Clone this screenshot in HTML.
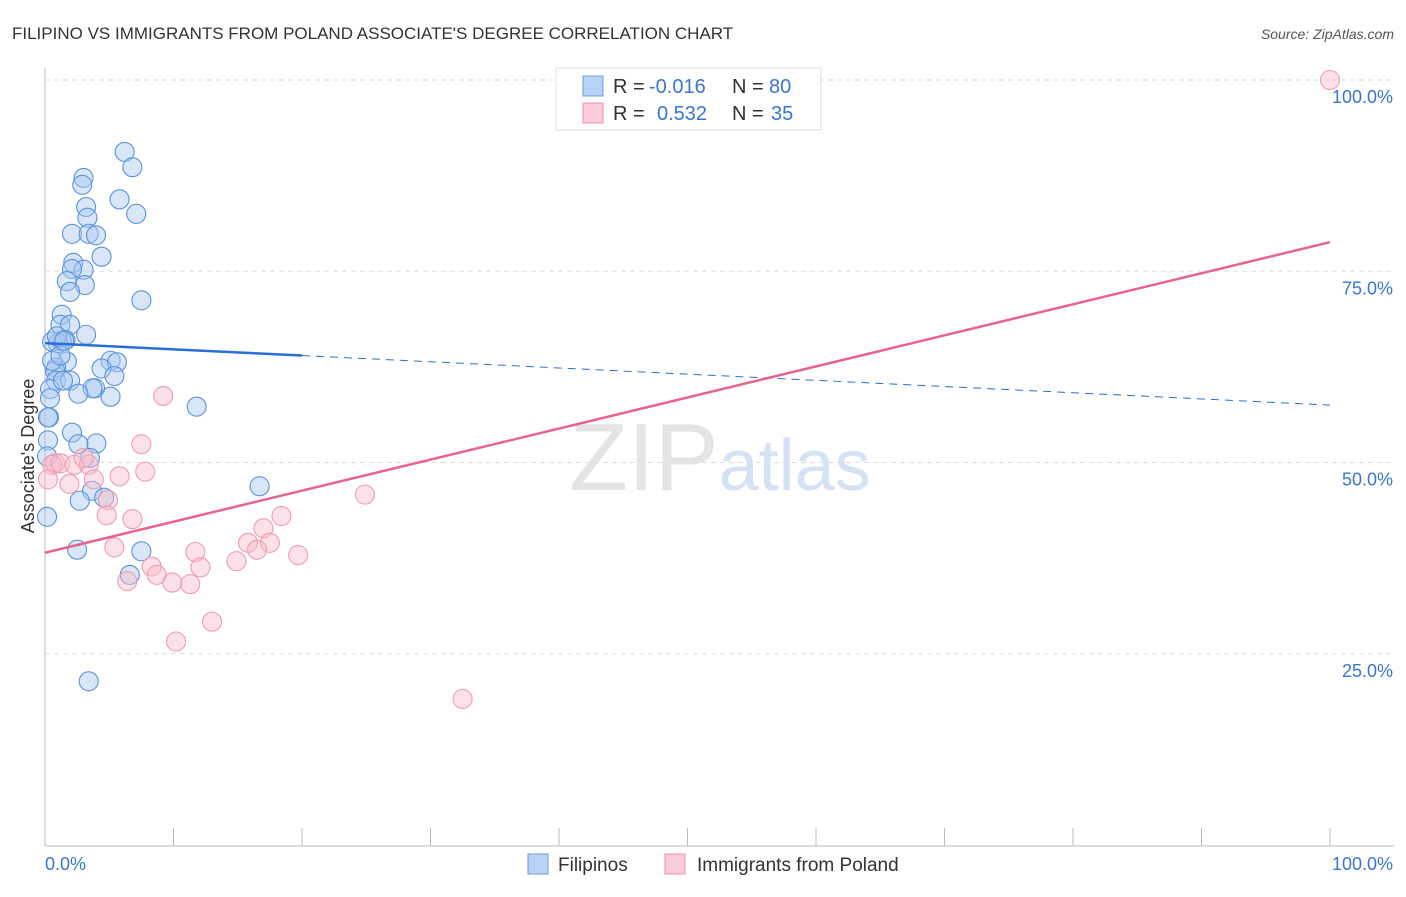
<!DOCTYPE html>
<html><head><meta charset="utf-8"><style>
body{margin:0;background:#fff;font-family:"Liberation Sans",sans-serif;}
svg text{font-family:"Liberation Sans",sans-serif;}
</style></head><body>
<svg width="1406" height="892" xmlns="http://www.w3.org/2000/svg">
<text x="12" y="39" font-size="17" fill="#333">FILIPINO VS IMMIGRANTS FROM POLAND ASSOCIATE'S DEGREE CORRELATION CHART</text>
<text x="1394" y="39" font-size="14" fill="#555" font-style="italic" text-anchor="end">Source: ZipAtlas.com</text>
<g id="grid"></g>
<text x="720" y="490" font-size="96" fill="#e4e4e4" text-anchor="middle" font-family="Liberation Serif">ZIP<tspan fill="#d5e2f4" font-family="Liberation Sans" font-size="72">atlas</tspan></text>
<g id="pts"></g>
<g id="lines"></g>
<text transform="translate(34,456) rotate(-90)" font-size="18" fill="#333" text-anchor="middle">Associate's Degree</text>
<text x="45" y="870" font-size="18" fill="#3a76d0">0.0%</text>
<text x="1393" y="870" font-size="18" fill="#3a76d0" text-anchor="end">100.0%</text>
<g>
<rect x="556" y="68" width="265" height="62" fill="#fff" stroke="#ddd"/>
<rect x="583" y="76" width="20" height="20" fill="#b9d3f5" stroke="#6a9de0"/>
<rect x="583" y="103" width="20" height="20" fill="#fbcbd9" stroke="#ec91ad"/>
<text x="613" y="93" font-size="20" fill="#333">R =</text>
<text x="649" y="93" font-size="20" fill="#3a76d0">-0.016</text>
<text x="732" y="93" font-size="20" fill="#333">N =</text>
<text x="769" y="93" font-size="20" fill="#3a76d0">80</text>
<text x="613" y="120" font-size="20" fill="#333">R =</text>
<text x="657" y="120" font-size="20" fill="#3a76d0">0.532</text>
<text x="732" y="120" font-size="20" fill="#333">N =</text>
<text x="771" y="120" font-size="20" fill="#3a76d0">35</text>
</g>
<g>
<rect x="528" y="854" width="20" height="20" fill="#b9d3f5" stroke="#6a9de0"/>
<text x="558" y="871" font-size="19" fill="#333">Filipinos</text>
<rect x="665" y="854" width="20" height="20" fill="#fbcbd9" stroke="#ec91ad"/>
<text x="697" y="871" font-size="19" fill="#333">Immigrants from Poland</text>
</g>
</svg>
<script>
const yTicks=[25,50,75,100];
const yTickLabels=["25.0%","50.0%","75.0%","100.0%"];
const blueX=[6.2,6.8,3.0,2.9,5.8,3.2,7.1,3.3,2.1,3.4,3.97,4.4,2.2,3.0,2.1,1.7,3.1,7.5,1.3,1.2,1.95,3.2,1.6,1.3,1.0,0.55,1.7,0.86,5.1,5.6,4.4,5.4,0.78,0.86,1.95,3.9,3.7,5.1,2.6,0.39,0.39,0.31,0.23,11.8,2.1,4.0,2.6,0.23,3.5,0.16,16.7,3.66,4.6,2.7,0.16,2.5,7.5,6.6,3.4,0.55,1.2,1.4,0.93,1.5,1.95];
const blueY=[90.6,88.6,87.2,86.3,84.4,83.4,82.5,82.0,79.9,79.9,79.7,76.9,76.1,75.2,75.3,73.7,73.2,71.2,69.3,68.0,68.0,66.7,66.0,65.9,65.6,65.8,63.2,62.4,63.3,63.1,62.3,61.3,62.0,60.7,60.7,59.7,59.7,58.6,59.0,59.6,58.4,55.9,55.9,57.3,53.9,52.5,52.4,52.9,50.6,50.8,46.9,46.3,45.4,45.0,42.9,38.6,38.4,35.3,21.4,63.3,64.0,60.7,66.5,65.9,72.3];
const pinkX=[100,9.2,7.5,0.78,0.55,1.2,2.3,3.4,3.0,7.8,5.8,3.8,1.9,0.23,24.9,4.9,4.8,6.8,18.4,5.4,15.8,17.0,17.5,16.5,11.7,14.9,19.7,8.3,8.7,6.4,12.1,9.9,11.3,13.0,10.2,32.5];
const pinkY=[100,58.7,52.4,49.9,49.7,49.9,49.7,49.7,50.6,48.8,48.2,47.8,47.2,47.8,45.8,45.1,43.1,42.6,43.0,38.9,39.5,41.4,39.5,38.6,38.3,37.1,37.9,36.4,35.3,34.5,36.3,34.3,34.1,29.2,26.6,19.1];
const blueTrend=[65.6,57.5];
const pinkTrend=[38.2,78.8];
const X0=45,X1=1330,Y0=845,Y100=80;
const sx=v=>X0+(X1-X0)*v/100, sy=v=>Y0-(Y0-Y100)*v/100;
const NS="http://www.w3.org/2000/svg";
function mk(t,a,p){const e=document.createElementNS(NS,t);for(const k in a)e.setAttribute(k,a[k]);p.appendChild(e);return e;}
const grid=document.getElementById('grid');
mk('line',{x1:45,y1:68,x2:45,y2:846,stroke:'#bbb'},grid);
mk('line',{x1:45,y1:846,x2:1394,y2:846,stroke:'#bbb'},grid);
for(let i=0;i<=10;i++){const x=sx(i*10);const t=mk('line',{x1:x,y1:828,x2:x,y2:846,stroke:'#bbb'},grid);

}
yTicks.forEach((v,i)=>{const g=mk('line',{x1:45,y1:sy(v),x2:1394,y2:sy(v),stroke:'#ddd','stroke-dasharray':'5,4'},grid);


const t=mk('text',{x:1393,y:sy(v)+23,'font-size':18,fill:'#3a76d0','text-anchor':'end'},grid);t.textContent=yTickLabels[i];

});
const pts=document.getElementById('pts');
blueX.forEach((v,i)=>{const c=mk('circle',{cx:sx(v),cy:sy(blueY[i]),r:9.5,fill:'#a9c8f0','fill-opacity':0.45,stroke:'#5b93dc','stroke-width':1.1},pts);

});
pinkX.forEach((v,i)=>{const c=mk('circle',{cx:sx(v),cy:sy(pinkY[i]),r:9.5,fill:'#f8bccd','fill-opacity':0.45,stroke:'#ef9bb4','stroke-width':1.1},pts);

});
const ln=document.getElementById('lines');
const bAt=x=>blueTrend[0]+(blueTrend[1]-blueTrend[0])*x/100;
let l=mk('line',{x1:sx(0),y1:sy(bAt(0)),x2:sx(20),y2:sy(bAt(20)),stroke:'#2a6fd6','stroke-width':2.5},ln);


l=mk('line',{x1:sx(20),y1:sy(bAt(20)),x2:sx(100),y2:sy(bAt(100)),stroke:'#2a6fd6','stroke-width':1,'stroke-dasharray':'8,6'},ln);


l=mk('line',{x1:sx(0),y1:sy(pinkTrend[0]),x2:sx(100),y2:sy(pinkTrend[1]),stroke:'#e8648f','stroke-width':2.5},ln);


</script>
</body></html>
